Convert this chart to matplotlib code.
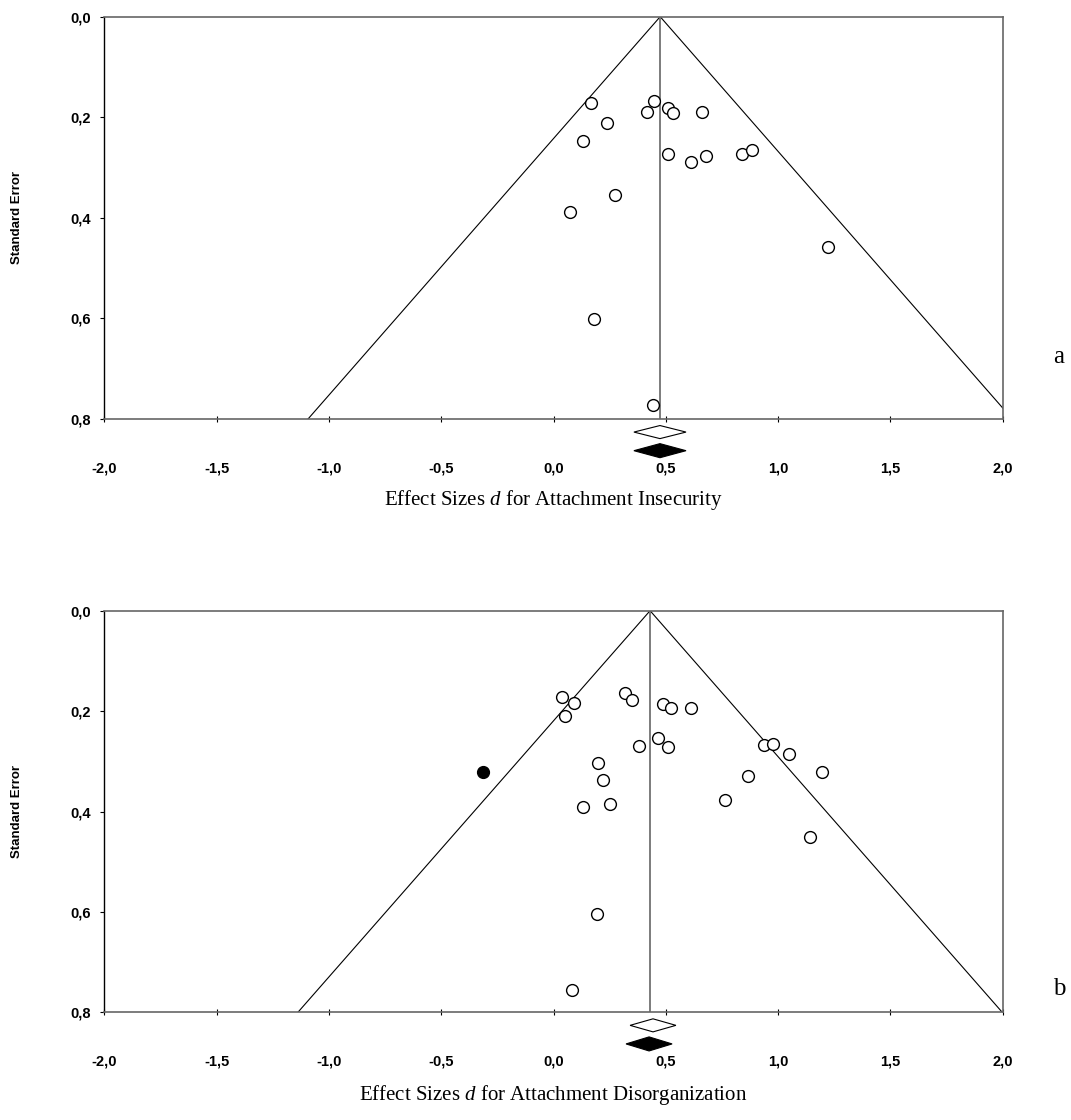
import matplotlib.pyplot as plt
from matplotlib.ticker import FuncFormatter

plt.rcParams['mathtext.fontset'] = 'custom'
plt.rcParams['mathtext.rm'] = 'Liberation Serif'
plt.rcParams['mathtext.it'] = 'Liberation Serif:italic'

# panel a - attachment insecurity
insec_d = [0.166, 0.237, 0.133, 0.447, 0.416, 0.511, 0.531, 0.659, 0.508,
           0.611, 0.679, 0.838, 0.884, 0.276, 0.073, 1.223, 0.179, 0.442]
insec_se = [0.172, 0.211, 0.248, 0.167, 0.189, 0.181, 0.192, 0.190, 0.273,
            0.288, 0.278, 0.273, 0.265, 0.354, 0.389, 0.457, 0.602, 0.772]
insec_fill_d = []
insec_fill_se = []
insec_est, insec_ci = 0.475, (0.358, 0.590)
insec_adj, insec_adj_ci = 0.475, (0.358, 0.590)

# panel b - attachment disorganization
disorg_d = [0.036, 0.092, 0.052, 0.317, 0.350, 0.487, 0.524, 0.612, 0.380,
            0.464, 0.508, 0.936, 0.979, 1.048, 1.196, 0.198, 0.219, 0.131,
            0.251, 0.866, 0.764, 1.142, 0.195, 0.081]
disorg_se = [0.171, 0.184, 0.210, 0.163, 0.178, 0.185, 0.193, 0.193, 0.270,
             0.254, 0.271, 0.268, 0.266, 0.285, 0.322, 0.304, 0.338, 0.391,
             0.386, 0.330, 0.377, 0.451, 0.604, 0.756]
disorg_fill_d = [-0.314]
disorg_fill_se = [0.322]
disorg_est, disorg_ci = 0.443, (0.341, 0.545)
disorg_adj, disorg_adj_ci = 0.430, (0.323, 0.528)

xticks = [-2.0, -1.5, -1.0, -0.5, 0.0, 0.5, 1.0, 1.5, 2.0]
yticks = [0.0, 0.2, 0.4, 0.6, 0.8]

W, H = 1071, 1120
fig = plt.figure(figsize=(W / 100, H / 100), dpi=100)

comma = FuncFormatter(lambda v, pos: f'{v:.1f}'.replace('.', ','))


def diamond(ax, lo, hi, yc, hh, face):
    mid = (lo + hi) / 2
    ax.fill([lo, mid, hi, mid], [yc, yc - hh, yc, yc + hh], facecolor=face,
            edgecolor='black', linewidth=0.8, clip_on=False, zorder=5)


def funnel(ax, d, se, fd, fse, est, ci, adj, adj_ci):
    ax.plot([adj, adj - 1.96 * 0.8], [0, 0.8], color='black', lw=0.8)
    ax.plot([adj, adj + 1.96 * 0.8], [0, 0.8], color='black', lw=0.8)
    ax.plot([adj, adj], [0, 0.8], color='#666666', lw=1.2)
    ax.plot(d, se, 'o', mfc='white', mec='black', ms=8.5, mew=1.0, zorder=4)
    if fd:
        ax.plot(fd, fse, 'o', mfc='black', mec='black', ms=8.5, mew=1.0, zorder=4)
    diamond(ax, ci[0], ci[1], 0.826, 0.013, 'white')
    diamond(ax, adj_ci[0], adj_ci[1], 0.863, 0.014, 'black')

    ax.set_xlim(-2, 2)
    ax.set_ylim(0.8, 0)
    ax.set_xticks(xticks)
    ax.set_yticks(yticks)
    ax.xaxis.set_major_formatter(comma)
    ax.yaxis.set_major_formatter(comma)
    ax.tick_params(axis='x', direction='inout', length=4.8, width=0.8, pad=28)
    ax.tick_params(axis='y', direction='out', length=2.6, width=0.8, pad=7)
    for lab in ax.get_xticklabels() + ax.get_yticklabels():
        lab.set_fontfamily('Liberation Sans')
        lab.set_fontweight('bold')
        lab.set_fontsize(10.5)
    for s in ['top', 'right', 'bottom']:
        ax.spines[s].set_color('#666666')
        ax.spines[s].set_linewidth(1.2)
    ax.spines['left'].set_color('black')
    ax.spines['left'].set_linewidth(1.0)


panels = [
    (16.7, 419.0, insec_d, insec_se, insec_fill_d, insec_fill_se, insec_est, insec_ci,
     insec_adj, insec_adj_ci, 'Effect Sizes $d$ for Attachment Insecurity', 500, 'a', 363),
    (610.7, 1012.3, disorg_d, disorg_se, disorg_fill_d, disorg_fill_se, disorg_est, disorg_ci,
     disorg_adj, disorg_adj_ci, 'Effect Sizes $d$ for Attachment Disorganization', 1095, 'b', 995),
]

left, right = 104.3, 1002.7
for top, bot, d, se, fd, fse, est, ci, adj, adj_ci, xlab, xlab_y, tag, tag_y in panels:
    ax = fig.add_axes([left / W, 1 - bot / H, (right - left) / W, (bot - top) / H])
    funnel(ax, d, se, fd, fse, est, ci, adj, adj_ci)
    fig.text(17 / W, 1 - (top + bot) / 2 / H, 'Standard Error', rotation=90,
             ha='center', va='center', fontsize=9.5, fontweight='bold',
             family='Liberation Sans')
    fig.text((left + right) / 2 / W, 1 - xlab_y / H, xlab, ha='center', va='center',
             fontsize=15, family='Liberation Serif')
    fig.text(1059 / W, 1 - tag_y / H, tag, ha='center', va='baseline',
             fontsize=18, family='Liberation Serif')

plt.savefig('out.png', dpi=100)
